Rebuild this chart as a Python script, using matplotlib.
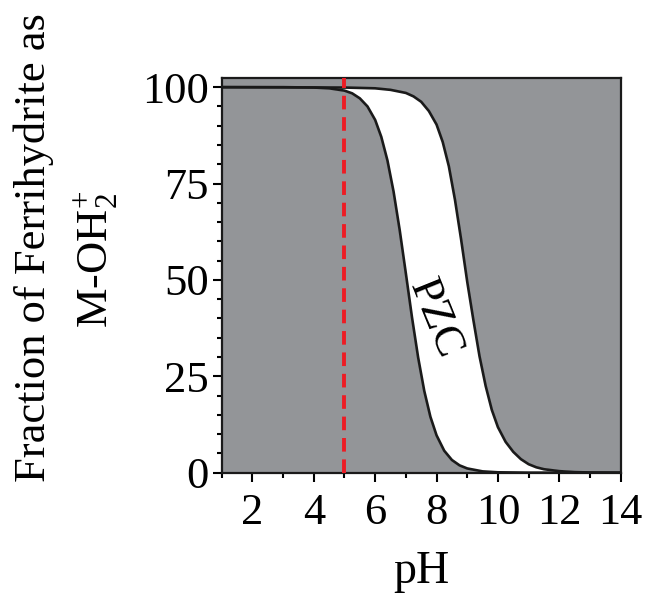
import numpy as np
import matplotlib
matplotlib.use("Agg")
import matplotlib.pyplot as plt
from matplotlib.ticker import MultipleLocator

# values
left_ph = [1.0, 3.0, 4.0, 4.5, 5.0, 5.25, 5.5, 5.75, 6.0, 6.2, 6.4, 6.6, 6.8, 7.0,
           7.2, 7.4, 7.6, 7.8, 8.0, 8.25, 8.5, 8.75, 9.0, 9.5, 10.0, 11.0, 14.0]
left_frac = [100, 100, 99.9, 99.7, 99.1, 98.4, 97.1, 95.0, 91.5, 87.1, 81.0, 72.9, 62.9, 51.7,
             40.3, 29.9, 21.2, 14.5, 9.7, 5.7, 3.3, 1.9, 1.1, 0.34, 0.1, 0.01, 0.0]

right_ph = [1.0, 5.0, 6.0, 6.5, 7.0, 7.25, 7.5, 7.75, 8.0, 8.2, 8.4, 8.6, 8.8, 9.0,
            9.2, 9.4, 9.6, 9.8, 10.0, 10.25, 10.5, 10.75, 11.0, 11.25, 11.5, 12.0,
            12.5, 13.0, 14.0]
right_frac = [100, 99.9, 99.7, 99.3, 98.5, 97.6, 96.2, 93.8, 90.3, 85.8, 79.5, 70.8, 60.5, 49.5,
              39.6, 30.2, 22.5, 16.3, 11.8, 8.0, 5.4, 3.5, 2.2, 1.4, 0.9, 0.4,
              0.15, 0.05, 0.0]

pzc_line = 5.0
x_ticks = [2, 4, 6, 8, 10, 12, 14]
y_ticks = [0, 25, 50, 75, 100]

plt.rcParams['font.family'] = ['Liberation Serif', 'DejaVu Serif']
plt.rcParams['mathtext.fontset'] = 'custom'
plt.rcParams['mathtext.rm'] = 'Liberation Serif'
plt.rcParams['mathtext.it'] = 'Liberation Serif:italic'

fig = plt.figure(figsize=(6.49, 6.05), dpi=100)
ax = fig.add_axes([0.3416, 0.2187, 0.6148, 0.6519])
ax.set_facecolor('#939598')

# white band between the two curves
ax.fill(np.concatenate([left_ph, right_ph[::-1]]),
        np.concatenate([left_frac, right_frac[::-1]]),
        color='white', zorder=1)
ax.plot(left_ph, left_frac, color='#1a1a1a', lw=1.9, zorder=2)
ax.plot(right_ph, right_frac, color='#1a1a1a', lw=1.9, zorder=2)
ax.axvline(pzc_line, color='#ed1c24', lw=2.8, ls=(0, (3.5, 2.0)), zorder=3)

ax.text(7.95, 40, 'PZC', rotation=-68, ha='center', va='center',
        fontsize=32, zorder=4)

ax.set_xlim(1, 14)
ax.set_ylim(0, 102.3)
ax.set_xticks(x_ticks)
ax.set_yticks(y_ticks)
ax.xaxis.set_minor_locator(MultipleLocator(1))
ax.yaxis.set_minor_locator(MultipleLocator(5))
ax.tick_params(which='major', direction='out', length=6.5, width=1.5, labelsize=32)
ax.tick_params(axis='x', which='major', pad=8)
ax.tick_params(axis='y', which='major', pad=3)
ax.tick_params(which='minor', direction='out', length=3.5, width=1.5)
for s in ax.spines.values():
    s.set_linewidth(1.6)
    s.set_color('#1a1a1a')

ax.set_xlabel('pH', fontsize=33, labelpad=13)
fig.text(34 / 649, 1 - 248 / 605, 'Fraction of Ferrihydrite as', rotation=90,
         ha='center', va='center', fontsize=32)
fig.text(96 / 649, 1 - 259 / 605, r'M-OH$_\mathregular{2}^{\mathregular{+}}$', rotation=90,
         ha='center', va='center', fontsize=32)

fig.savefig('out.png', dpi=100)
